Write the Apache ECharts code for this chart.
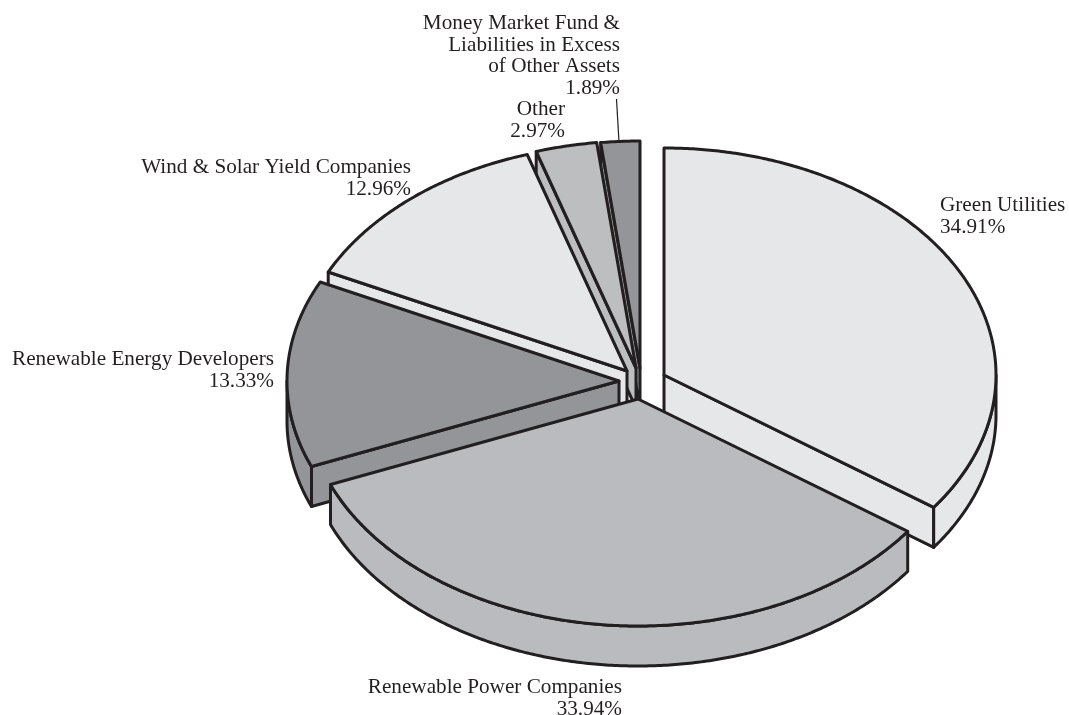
<!DOCTYPE html>
<html>
<head>
<meta charset="utf-8">
<title>Portfolio allocation</title>
<style>
  html, body { margin: 0; padding: 0; background: #fff; }
  #main { width: 1069px; height: 715px; }
</style>
<script src="https://cdn.jsdelivr.net/npm/echarts@6/dist/echarts.min.js"></script>
</head>
<body>
<div id="main"></div>
<script>
// data, clockwise from 12 o'clock
var categories = [
  'Green Utilities',
  'Renewable Power Companies',
  'Renewable Energy Developers',
  'Wind & Solar Yield Companies',
  'Other',
  'Money Market Fund &\nLiabilities in Excess\nof Other Assets'
];
var values = [34.91, 33.94, 13.33, 12.96, 2.97, 1.89];

// layout of the fake 3d pie
var radiusX = 332, radiusY = 227, depth = 40;
var sliceColors = ['#e6e7e8', '#b9bbbe', '#939598', '#e6e7e8', '#bcbec0', '#939598'];
// exploded apex of every slice
var apexX = [664, 638, 619, 627, 636, 640];
var apexY = [375, 399, 381, 371, 368, 368];
// label anchor: x, y of the first line, align
var labelX = [940, 622, 274, 411, 565, 620];
var labelY = [195, 676.5, 349, 157, 99, 12.5];
var labelAlign = ['left', 'right', 'right', 'right', 'right', 'right'];
// back to front
var drawOrder = [5, 4, 3, 2, 0, 1];

var inkColor = '#231f20';
var total = values.reduce(function (a, b) { return a + b; }, 0);

// start / end angle of each slice, degrees clockwise from the top
var startAngles = [], endAngles = [];
var sum = 0;
for (var i = 0; i < values.length; i++) {
  startAngles.push(sum / total * 360);
  sum += values[i];
  endAngles.push(sum / total * 360);
}

function rimPoint(i, deg, drop) {
  var r = deg * Math.PI / 180;
  return [apexX[i] + radiusX * Math.sin(r), apexY[i] - radiusY * Math.cos(r) + (drop || 0)];
}

function arcPoints(i, from, to, drop) {
  var pts = [];
  var steps = Math.max(2, Math.ceil(Math.abs(to - from) * 2));
  for (var s = 0; s <= steps; s++) {
    pts.push(rimPoint(i, from + (to - from) * s / steps, drop));
  }
  return pts;
}

function poly(points, color) {
  return {
    type: 'polygon',
    shape: { points: points },
    style: { fill: color, stroke: inkColor, lineWidth: 3, lineJoin: 'round' }
  };
}

function renderSlice(params, api) {
  var i = drawOrder[params.dataIndex];
  var a0 = startAngles[i], a1 = endAngles[i];
  var color = sliceColors[i];
  var apex = [apexX[i], apexY[i]];
  var apexLow = [apexX[i], apexY[i] + depth];
  var children = [];

  // cut faces turned to the viewer
  if (Math.sin(a0 * Math.PI / 180) < -0.001) {
    children.push(poly([apex, rimPoint(i, a0), rimPoint(i, a0, depth), apexLow], color));
  }
  if (Math.sin(a1 * Math.PI / 180) > 0.001) {
    children.push(poly([apex, rimPoint(i, a1), rimPoint(i, a1, depth), apexLow], color));
  }
  // outer rim, only the front half of the ellipse shows
  var r0 = Math.max(a0, 90), r1 = Math.min(a1, 270);
  if (r1 > r0) {
    children.push(poly(arcPoints(i, r0, r1, 0).concat(arcPoints(i, r1, r0, depth)), color));
  }
  // top face
  children.push(poly([apex].concat(arcPoints(i, a0, a1, 0)), color));

  // leader for the money market label
  if (i === 5) {
    children.push({
      type: 'line',
      shape: { x1: 616.5, y1: 99, x2: 619, y2: 142 },
      style: { stroke: inkColor, lineWidth: 1.2 }
    });
  }
  children.push({
    type: 'text',
    style: {
      x: labelX[i],
      y: labelY[i],
      text: categories[i] + '\n' + values[i].toFixed(2) + '%',
      align: labelAlign[i],
      verticalAlign: 'top',
      fontFamily: '"Liberation Serif"',
      fontSize: 21.2,
      lineHeight: 21.7,
      fill: inkColor
    }
  });
  return { type: 'group', children: children };
}

var myChart = echarts.init(document.getElementById('main'));
myChart.setOption({
  animation: false,
  tooltip: { show: false },
  series: [{
    type: 'custom',
    coordinateSystem: 'none',
    renderItem: renderSlice,
    data: drawOrder.map(function (i) { return { name: categories[i], value: values[i] }; })
  }]
});
</script>
</body>
</html>
